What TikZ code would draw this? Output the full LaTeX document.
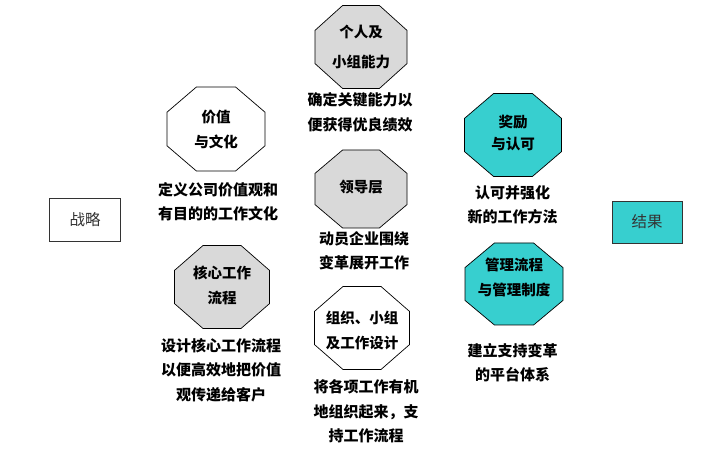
\documentclass[tikz,border=0pt]{standalone}
\usepackage{fontspec}
\newfontfamily\cjk{Noto Sans CJK SC}
\definecolor{cyanfill}{RGB}{55,207,207}
\definecolor{grayfill}{RGB}{217,217,217}
\definecolor{boxtext}{RGB}{51,51,51}
\newcommand{\octag}[5]{%
  \filldraw[fill=#5, draw=black, line width=0.7pt]
  ({#1-0.2*#3},{#2-0.5*#4}) -- ({#1+0.2*#3},{#2-0.5*#4}) --
  ({#1+0.5*#3},{#2-0.2*#4}) -- ({#1+0.5*#3},{#2+0.2*#4}) --
  ({#1+0.2*#3},{#2+0.5*#4}) -- ({#1-0.2*#3},{#2+0.5*#4}) --
  ({#1-0.5*#3},{#2+0.2*#4}) -- ({#1-0.5*#3},{#2-0.2*#4}) -- cycle;}
\tikzset{
  lbl/.style={align=center, inner sep=0pt, font=\cjk\bfseries\fontsize{15}{24.5}\selectfont},
  inlbl/.style={align=center, inner sep=0pt, font=\cjk\bfseries\fontsize{14.5}{25}\selectfont},
  boxnode/.style={draw=boxtext, line width=0.8pt, minimum width=71pt, minimum height=43pt, inner sep=0pt, text=boxtext, font=\cjk\fontsize{15.5}{18}\selectfont}
}
\begin{document}
\begin{tikzpicture}[x=1pt,y=-1pt]
\useasboundingbox[fill=white] (0,0) rectangle (707,470);
% boxes
\node[boxnode] (strategy) at (85,220) {战略};
\node[boxnode, fill=cyanfill, minimum width=70pt, minimum height=42pt] (result) at (647,222) {结果};
% octagons
\octag{216}{129}{98}{84}{white}
\octag{361}{47}{92}{83}{grayfill}
\octag{513}{135}{97}{83}{cyanfill}
\octag{361}{189}{92}{78}{grayfill}
\octag{222}{287}{95}{83}{grayfill}
\octag{362}{328}{95}{83}{white}
\octag{514}{284}{98}{82}{cyanfill}
% inner labels
\node[inlbl] (valuesin) at (216,129.5) {价值\\与文化};
\node[inlbl, font=\cjk\bfseries\fontsize{14.5}{30}\selectfont] (teamin) at (361,47) {个人及\\小组能力};
\node[inlbl, font=\cjk\bfseries\fontsize{14.5}{22}\selectfont] (rewardin) at (513,132.5) {奖励\\与认可};
\node[inlbl] (leadin) at (361,187) {领导层};
\node[inlbl] (corein) at (222,285) {核心工作\\流程};
\node[inlbl] (orgin) at (362,330) {组织、小组\\及工作设计};
\node[inlbl] (mgmtin) at (514,277.5) {管理流程\\与管理制度};
% descriptions
\node[lbl] (valuesd) at (218,201.5) {定义公司价值观和\\有目的的工作文化};
\node[lbl] (teamd) at (360,112.5) {确定关键能力以\\便获得优良绩效};
\node[lbl] (rewardd) at (512.5,205) {认可并强化\\新的工作方法};
\node[lbl] (leadd) at (364,251) {动员企业围绕\\变革展开工作};
\node[lbl] (cored) at (221,370) {设计核心工作流程\\以便高效地把价值\\观传递给客户};
\node[lbl] (orgd) at (366,411.5) {将各项工作有机\\地组织起来，支\\持工作流程};
\node[lbl] (mgmtd) at (512.5,362.5) {建立支持变革\\的平台体系};
\end{tikzpicture}
\end{document}
